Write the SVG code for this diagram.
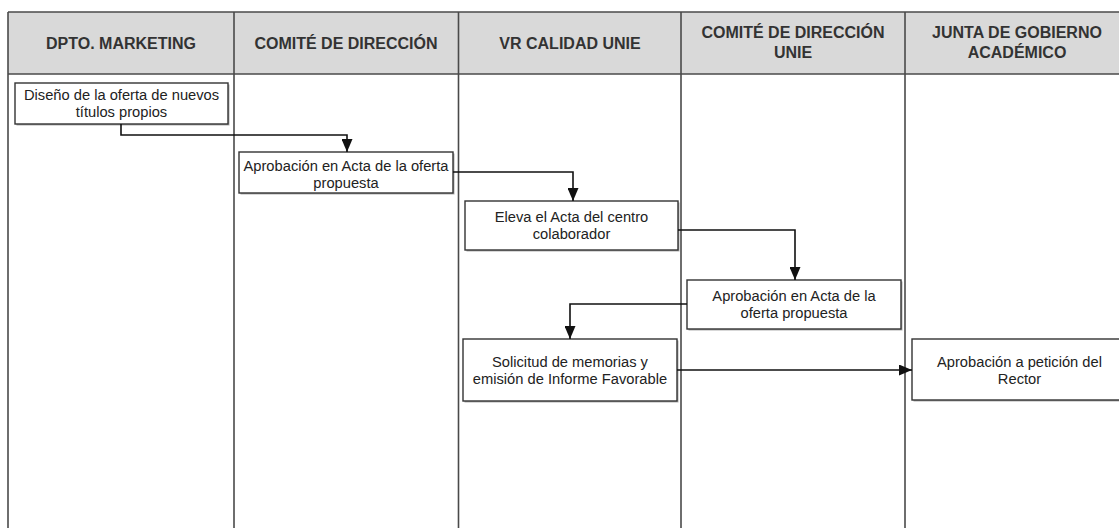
<svg xmlns="http://www.w3.org/2000/svg" width="1119" height="528" viewBox="0 0 1119 528">
  <style>
    .hdr { fill: #d9d9d9; }
    .grid { stroke: #4a4a4a; stroke-width: 1.6; fill: none; }
    .htxt { font-family: "Liberation Sans", Arial, sans-serif; font-weight: bold; font-size: 16px; fill: #333333; text-anchor: middle; }
    .box { fill: #ffffff; stroke: #333333; stroke-width: 1.4; }
    .shadow { fill: #b0b0b0; }
    .btxt { font-family: "Liberation Sans", Arial, sans-serif; font-size: 14.7px; fill: #222222; text-anchor: middle; }
    .conn { stroke: #111111; stroke-width: 1.6; fill: none; marker-end: url(#arrow); }
  </style>
  <defs>
    <marker id="arrow" viewBox="0 0 13 11" refX="13" refY="5.5" markerWidth="13" markerHeight="11" markerUnits="userSpaceOnUse" orient="auto">
      <path d="M0,0 L13,5.5 L0,11 Z" fill="#111111"/>
    </marker>
  </defs>
  <rect width="1119" height="528" fill="#ffffff"/>

  <g id="lanes">
    <rect class="hdr" x="8" y="12" width="1125" height="62"/>
    <line class="grid" x1="8" y1="12" x2="1119" y2="12"/>
    <line class="grid" x1="8" y1="74" x2="1119" y2="74"/>
    <line class="grid" x1="8" y1="12" x2="8" y2="528"/>
    <line class="grid" x1="234" y1="12" x2="234" y2="528"/>
    <line class="grid" x1="458.5" y1="12" x2="458.5" y2="528"/>
    <line class="grid" x1="681" y1="12" x2="681" y2="528"/>
    <line class="grid" x1="905" y1="12" x2="905" y2="528"/>
    <text class="htxt" x="121" y="48.5">DPTO. MARKETING</text>
    <text class="htxt" x="346" y="48.5">COMITÉ DE DIRECCIÓN</text>
    <text class="htxt" x="570" y="48.5">VR CALIDAD UNIE</text>
    <text class="htxt" x="793" y="37.5">COMITÉ DE DIRECCIÓN</text>
    <text class="htxt" x="793" y="57.5">UNIE</text>
    <text class="htxt" x="1017" y="37.5">JUNTA DE GOBIERNO</text>
    <text class="htxt" x="1017" y="57.5">ACADÉMICO</text>
  </g>

  <g id="n1">
    <rect class="shadow" x="16.5" y="84.5" width="213" height="41"/>
    <rect class="box" x="15" y="83" width="213" height="41"/>
    <text class="btxt" x="121.5" y="100">Diseño de la oferta de nuevos</text>
    <text class="btxt" x="121.5" y="117">títulos propios</text>
  </g>
  <g id="n2">
    <rect class="shadow" x="240.5" y="153.5" width="214" height="41"/>
    <rect class="box" x="239" y="152" width="214" height="41"/>
    <text class="btxt" x="346" y="171">Aprobación en Acta de la oferta</text>
    <text class="btxt" x="346" y="188">propuesta</text>
  </g>
  <g id="n3">
    <rect class="shadow" x="466.5" y="202.5" width="213" height="49"/>
    <rect class="box" x="465" y="201" width="213" height="49"/>
    <text class="btxt" x="571.5" y="222">Eleva el Acta del centro</text>
    <text class="btxt" x="571.5" y="239">colaborador</text>
  </g>
  <g id="n4">
    <rect class="shadow" x="688.5" y="281.5" width="214" height="49"/>
    <rect class="box" x="687" y="280" width="214" height="49"/>
    <text class="btxt" x="794" y="301">Aprobación en Acta de la</text>
    <text class="btxt" x="794" y="318">oferta propuesta</text>
  </g>
  <g id="n5">
    <rect class="shadow" x="464.5" y="340.5" width="214" height="62"/>
    <rect class="box" x="463" y="339" width="214" height="62"/>
    <text class="btxt" x="570" y="367">Solicitud de memorias y</text>
    <text class="btxt" x="570" y="384">emisión de Informe Favorable</text>
  </g>
  <g id="n6">
    <rect class="shadow" x="913.5" y="340.5" width="215" height="61"/>
    <rect class="box" x="912" y="339" width="215" height="61"/>
    <text class="btxt" x="1019.5" y="367">Aprobación a petición del</text>
    <text class="btxt" x="1019.5" y="384">Rector</text>
  </g>

  <g id="connectors">
    <path class="conn" d="M121,124 V135 H347 V152"/>
    <path class="conn" d="M453,172 H573 V201"/>
    <path class="conn" d="M678,230 H795 V280"/>
    <path class="conn" d="M687,304 H570 V339"/>
    <path class="conn" d="M677,370 H912"/>
  </g>
</svg>
